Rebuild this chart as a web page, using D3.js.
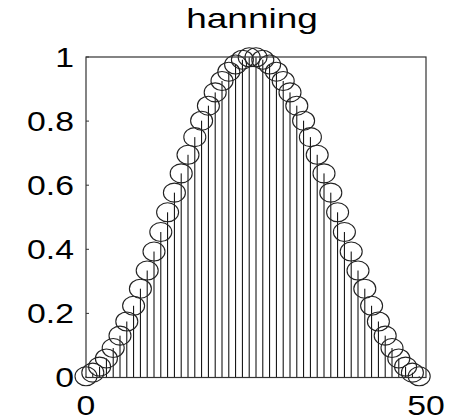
<!DOCTYPE html>
<html>
<head>
<meta charset="utf-8">
<script src="https://d3js.org/d3.v7.min.js"></script>
<style>
  body { margin: 0; background: #fff; }
  text { font-family: "Liberation Sans", Arial, sans-serif; fill: #000; }
</style>
</head>
<body>
<div id="container"></div>
<script>
// window samples (index 0..49)
var sampleIndex = d3.range(0, 50);
var sampleValues = [
  0.0038, 0.0151, 0.0338, 0.0595, 0.0919, 0.1305, 0.1747, 0.2238, 0.2771, 0.3338,
  0.3930, 0.4539, 0.5154, 0.5767, 0.6368, 0.6949, 0.7500, 0.8013, 0.8481, 0.8895,
  0.9251, 0.9542, 0.9765, 0.9915, 0.9991, 0.9991, 0.9915, 0.9765, 0.9542, 0.9251,
  0.8895, 0.8481, 0.8013, 0.7500, 0.6949, 0.6368, 0.5767, 0.5154, 0.4539, 0.3930,
  0.3338, 0.2771, 0.2238, 0.1747, 0.1305, 0.0919, 0.0595, 0.0338, 0.0151, 0.0038
];
var xTicks = [0, 50];
var yTicks = [0, 0.2, 0.4, 0.6, 0.8, 1];
var yTickLabels = ["0", "0.2", "0.4", "0.6", "0.8", "1"];
var title = "hanning";

var width = 450, height = 419;
var margin = {top: 57, right: 24, bottom: 41.5, left: 86};
var textStretch = 1.25;

var svg = d3.select("#container").append("svg")
  .attr("width", width)
  .attr("height", height);

svg.append("rect").attr("width", width).attr("height", height).attr("fill", "#fff");

var x = d3.scaleLinear().domain([0, 50]).range([margin.left, width - margin.right]);
var y = d3.scaleLinear().domain([0, 1]).range([height - margin.bottom, margin.top]);

var data = sampleIndex.map(function(d, i) {
  return {x: d, y: sampleValues[i]};
});

// stems
svg.selectAll(".stem")
  .data(data)
  .enter().append("line")
  .attr("class", "stem")
  .attr("x1", function(d) { return x(d.x); })
  .attr("x2", function(d) { return x(d.x); })
  .attr("y1", y(0))
  .attr("y2", function(d) { return y(d.y); })
  .attr("stroke", "#000")
  .attr("stroke-width", 1);

// markers (open, a bit wider than tall)
svg.selectAll(".marker")
  .data(data)
  .enter().append("ellipse")
  .attr("class", "marker")
  .attr("cx", function(d) { return x(d.x); })
  .attr("cy", function(d) { return y(d.y); })
  .attr("rx", 11)
  .attr("ry", 9.5)
  .attr("fill", "none")
  .attr("stroke", "#222")
  .attr("stroke-width", 1.1);

// axes box
var x0 = x(0), x1 = x(50), y0 = y(0), y1 = y(1);
svg.append("rect")
  .attr("x", x0).attr("y", y1)
  .attr("width", x1 - x0).attr("height", y0 - y1)
  .attr("fill", "none")
  .attr("stroke", "#333")
  .attr("stroke-width", 1.2);

// inward ticks on left axis
svg.selectAll(".ytick")
  .data(yTicks)
  .enter().append("line")
  .attr("x1", x0).attr("x2", x0 + 3)
  .attr("y1", function(d) { return y(d); })
  .attr("y2", function(d) { return y(d); })
  .attr("stroke", "#333");

svg.selectAll(".ylabel")
  .data(yTicks)
  .enter().append("text")
  .attr("transform", function(d) {
    return "translate(74," + y(d) + ") scale(" + textStretch + ",1)";
  })
  .attr("dy", "0.36em")
  .attr("text-anchor", "end")
  .style("font-size", "27px")
  .text(function(d, i) { return yTickLabels[i]; });

svg.selectAll(".xlabel")
  .data(xTicks)
  .enter().append("text")
  .attr("transform", function(d) {
    return "translate(" + x(d) + ",415) scale(" + textStretch + ",1)";
  })
  .attr("text-anchor", "middle")
  .style("font-size", "27px")
  .text(function(d) { return d; });

svg.append("text")
  .attr("transform", "translate(252,28) scale(1.32,1)")
  .attr("text-anchor", "middle")
  .style("font-size", "28px")
  .text(title);
</script>
</body>
</html>
